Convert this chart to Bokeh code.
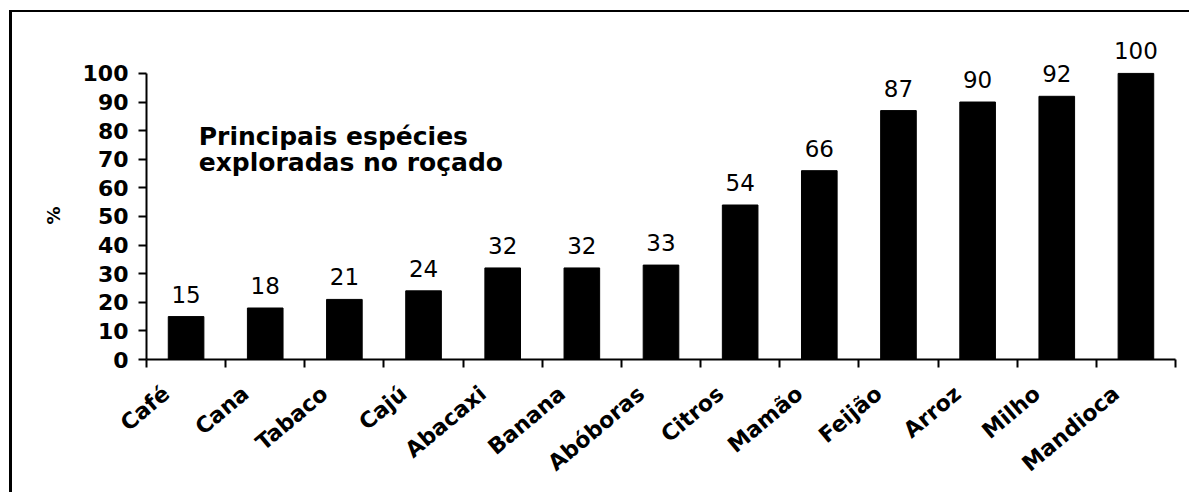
import math

from bokeh.plotting import figure
from bokeh.models import (ColumnDataSource, LabelSet, Label, Range1d,
                          FixedTicker, Title)
from bokeh.core.properties import value
from bokeh.embed import file_html
from bokeh.resources import INLINE

# Share of farms growing each species in the roçado (%)
species = ["Café", "Cana", "Tabaco", "Cajú", "Abacaxi", "Banana", "Abóboras",
           "Citros", "Mamão", "Feijão", "Arroz", "Milho", "Mandioca"]
percent = [15, 18, 21, 24, 32, 32, 33, 54, 66, 87, 90, 92, 100]
y_ticks = [0, 10, 20, 30, 40, 50, 60, 70, 80, 90, 100]

# bars sit in the middle of each unit-wide slot; ticks mark the slot edges
centers = [i + 0.5 for i in range(len(species))]
edges = list(range(len(species) + 1))

# slanted names end a little left of the slot middle
LABEL_SHIFT = 0.25
label_at = [c - LABEL_SHIFT for c in centers]

source = ColumnDataSource(dict(x=centers, top=percent,
                               label=[str(v) for v in percent]))

FONT = "DejaVu Sans"

# thin frame along the top and left edge of the graphic, painted behind
# the transparent border area of the canvas
frame_css = {
    "background-color": "white",
    "background-image": "linear-gradient(#000, #000), linear-gradient(#000, #000)",
    "background-size": "100% 2px, 3px 100%",
    "background-position": "10px 10px, 9px 10px",
    "background-repeat": "no-repeat",
}

p = figure(width=1189, height=492, output_backend="svg", toolbar_location=None,
           x_range=Range1d(0, len(species)), y_range=Range1d(0, 115),
           min_border_left=146, min_border_right=14,
           min_border_top=30, min_border_bottom=133,
           styles=frame_css)
p.outline_line_color = None
p.grid.visible = False
p.background_fill_color = "white"
p.border_fill_color = None

p.vbar(x="x", top="top", width=0.45, source=source,
       fill_color="black", line_color="black")

xa = p.xaxis[0]
xa.ticker = FixedTicker(ticks=label_at, minor_ticks=edges)
xa.major_label_overrides = {t: s for t, s in zip(label_at, species)}
xa.major_label_orientation = math.radians(40)
xa.major_label_text_font = FONT
xa.major_label_text_font_style = "bold"
xa.major_label_text_font_size = "22px"
xa.major_label_text_color = "black"
xa.major_label_standoff = 23
xa.major_tick_line_color = None
xa.minor_tick_line_color = "black"
xa.minor_tick_line_width = 2
xa.minor_tick_out = 8
xa.minor_tick_in = 0
xa.axis_line_color = "black"
xa.axis_line_width = 2

ya = p.yaxis[0]
ya.ticker = FixedTicker(ticks=y_ticks)
ya.bounds = (0, 100)
ya.major_tick_line_color = "black"
ya.major_tick_line_width = 2
ya.major_tick_out = 8
ya.major_tick_in = 0
ya.minor_tick_line_color = None
ya.axis_line_color = "black"
ya.axis_line_width = 2
ya.major_label_text_font = FONT
ya.major_label_text_font_style = "bold"
ya.major_label_text_font_size = "22px"
ya.major_label_text_color = "black"
ya.major_label_standoff = 10

# y axis title, centred on the 0-100 span of the axis
p.add_layout(Title(text="%", align="left", offset=135, standoff=31,
                   text_font=FONT, text_font_style="bold",
                   text_font_size="18px", text_color="black"), "left")

# value above each bar
p.add_layout(LabelSet(x="x", y="top", text="label", source=source,
                      y_offset=14, text_align="center",
                      text_baseline="alphabetic",
                      text_font=value(FONT), text_font_size="23px",
                      text_color="black"))

# chart caption, two lines
for text, y in [("Principais espécies", 78.0), ("exploradas no roçado", 68.7)]:
    p.add_layout(Label(x=0.66, y=y, text=text, text_font=FONT,
                       text_font_style="bold", text_font_size="25px",
                       text_color="black", text_baseline="alphabetic"))

open("out.html", "w").write(file_html(p, INLINE))
